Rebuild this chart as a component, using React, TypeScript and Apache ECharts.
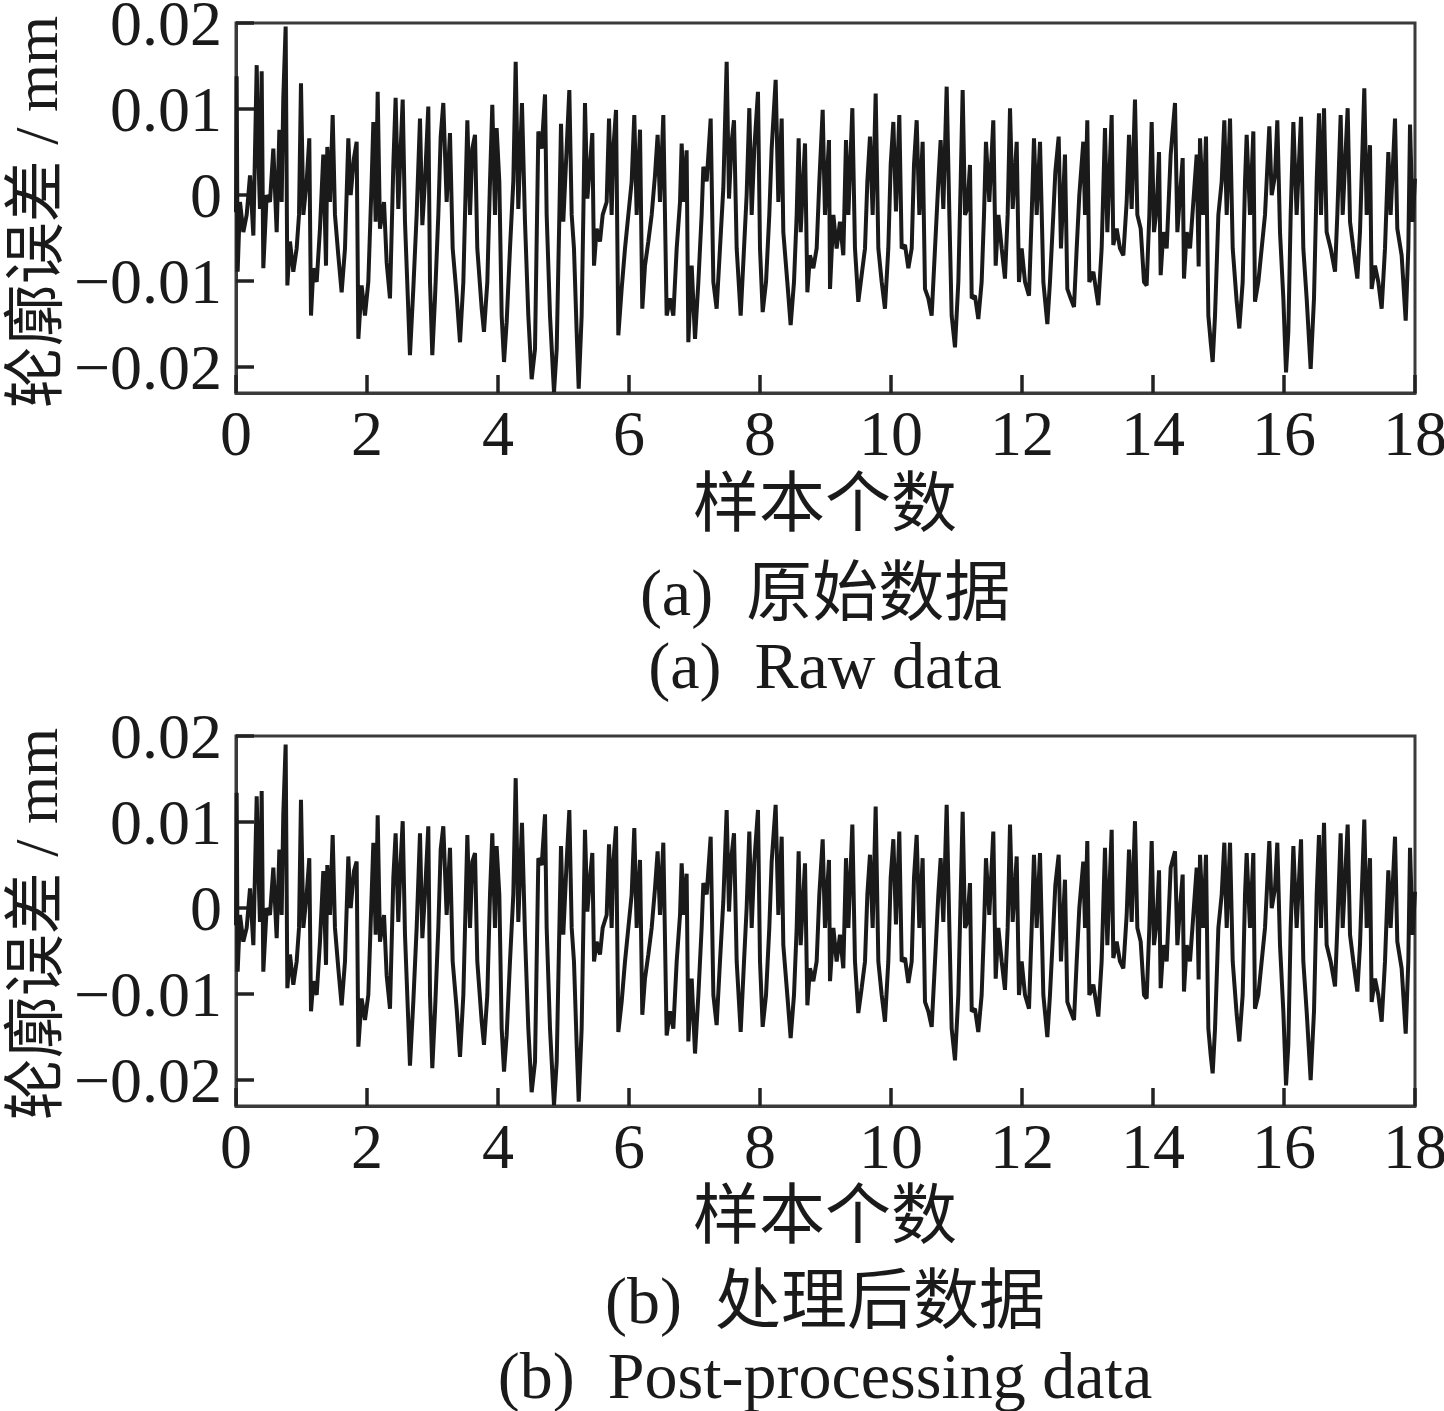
import React, { useEffect, useRef } from "react";
import * as echarts from "echarts";

// ---------- data (x = 样本个数, y = 轮廓误差 / mm) ----------
const X_SEG1 = [
  0, 0.01, 0.025, 0.061, 0.112, 0.163, 0.214, 0.265, 0.316, 0.341,
  0.366, 0.392, 0.417, 0.468, 0.519, 0.57, 0.621, 0.662, 0.697, 0.722,
  0.758, 0.784, 0.824, 0.875, 0.926, 0.962, 0.992, 1.028, 1.079, 1.119,
  1.145, 1.181, 1.232, 1.282, 1.333, 1.374, 1.394, 1.435, 1.476, 1.511,
  1.562, 1.613, 1.664, 1.715, 1.751, 1.801, 1.842, 1.868, 1.918, 1.969,
  2.02, 2.071, 2.097, 2.132, 2.163, 2.198, 2.26, 2.3, 2.351, 2.402,
  2.437, 2.478, 2.514, 2.545, 2.58, 2.656, 2.707, 2.758, 2.809, 2.845,
  2.885, 2.936, 2.962, 2.997, 3.038, 3.089, 3.125, 3.165, 3.216, 3.267,
  3.308, 3.369, 3.42, 3.471, 3.532, 3.573, 3.608, 3.649, 3.684, 3.751,
  3.786, 3.837, 3.878, 3.913, 3.954, 3.979, 4.02, 4.056, 4.092, 4.132,
  4.183, 4.234, 4.27, 4.31, 4.366, 4.412, 4.463, 4.514, 4.565, 4.616,
];
const RAW_SEG1 = [
  -0.002, 0.0138, -0.0089, -0.0008, -0.0043, -0.0023, 0.0023, -0.0047, 0.0151, 0.0047,
  -0.0016, 0.0144, -0.0085, 0.0, -0.0008, 0.0054, -0.0043, 0.0076, -0.0008, 0.0113,
  0.0196, -0.0105, -0.0054, -0.0089, -0.0062, -0.0023, 0.013, -0.0023, 0.0016, 0.0066,
  -0.014, -0.0085, -0.0101, -0.0039, 0.0047, -0.0082, 0.0056, -0.0008, 0.0093, -0.0023,
  -0.007, -0.0113, -0.0062, 0.0066, 0.0, 0.0043, 0.0062, -0.0167, -0.0105, -0.014,
  -0.0101, 0.0016, 0.0085, -0.0031, 0.012, -0.0039, -0.0008, -0.0078, -0.012, 0.0035,
  0.0113, -0.0016, 0.0054, 0.0111, -0.0031, -0.0186, -0.0109, -0.0023, 0.0089, -0.0035,
  0.0016, 0.0103, -0.0101, -0.0186, -0.012, -0.0023, 0.0068, 0.0107, -0.0008, 0.0072,
  -0.0062, -0.0117, -0.0171, -0.0101, 0.0087, -0.0023, 0.0054, 0.007, -0.0062, -0.0132,
  -0.0159, -0.0101, 0.0016, 0.0105, -0.0023, 0.0078, 0.0016, -0.014, -0.0194, -0.0148,
  -0.0062, 0.0016, 0.0155, -0.0016, 0.0107, -0.0031, -0.014, -0.0214, -0.0179, 0.0074,
];
const POST_SEG1 = [
  -0.002, 0.0134, -0.0074, -0.0008, -0.0039, -0.0023, 0.0023, -0.0043, 0.013, 0.0047,
  -0.0016, 0.0136, -0.0074, 0.0, -0.0008, 0.0047, -0.0035, 0.0068, -0.0008, 0.0109,
  0.019, -0.0093, -0.0054, -0.0089, -0.0062, -0.0023, 0.0126, -0.0023, 0.0016, 0.0058,
  -0.012, -0.0085, -0.0101, -0.0039, 0.0043, -0.0066, 0.005, -0.0008, 0.0085, -0.0023,
  -0.007, -0.0113, -0.0062, 0.006, 0.0, 0.0043, 0.0054, -0.0161, -0.0105, -0.013,
  -0.0101, 0.0016, 0.0076, -0.0031, 0.0108, -0.0039, -0.0008, -0.0078, -0.0117, 0.0035,
  0.0087, -0.0016, 0.0054, 0.0101, -0.0031, -0.0183, -0.0109, -0.0023, 0.0087, -0.0035,
  0.0016, 0.0095, -0.0101, -0.0186, -0.012, -0.0023, 0.0068, 0.0095, -0.0008, 0.007,
  -0.0062, -0.0117, -0.0173, -0.0101, 0.0085, -0.0023, 0.0054, 0.0064, -0.0062, -0.0132,
  -0.0159, -0.0101, 0.0016, 0.0087, -0.0023, 0.0072, 0.0016, -0.014, -0.019, -0.0148,
  -0.0062, 0.0016, 0.0151, -0.0016, 0.0099, -0.0031, -0.014, -0.0214, -0.0179, 0.0058,
];

const X_SEG2 = [
  4.667, 4.718, 4.743, 4.794, 4.855, 4.896, 4.937, 4.962, 4.997, 5.048,
  5.089, 5.125, 5.16, 5.201, 5.232, 5.277, 5.303, 5.328, 5.364, 5.405,
  5.44, 5.466, 5.506, 5.557, 5.598, 5.659, 5.695, 5.735, 5.761, 5.802,
  5.837, 5.888, 5.939, 5.99, 6.041, 6.081, 6.117, 6.168, 6.203, 6.244,
  6.295, 6.346, 6.397, 6.437, 6.473, 6.524, 6.575, 6.626, 6.677, 6.728,
  6.779, 6.804, 6.84, 6.88, 6.906, 6.957, 7.008, 7.059, 7.109, 7.135,
  7.186, 7.247, 7.288, 7.338, 7.389, 7.44, 7.491, 7.527, 7.567, 7.603,
  7.644, 7.705, 7.756, 7.796, 7.837, 7.873, 7.913, 7.969, 8.0, 8.041,
  8.092, 8.142, 8.178, 8.239, 8.28, 8.331, 8.356, 8.417, 8.468, 8.519,
  8.56, 8.59, 8.621, 8.687, 8.723, 8.763, 8.814, 8.865, 8.906, 8.957,
  8.992, 9.053, 9.069, 9.12, 9.17, 9.221,
];
const RAW_SEG2 = [
  0.0054, 0.0117, -0.0023, -0.014, -0.0229, -0.0179, -0.0023, 0.0083, -0.0031, 0.0054,
  0.0122, -0.0023, -0.0062, -0.0159, -0.0225, -0.014, -0.0023, 0.0107, -0.0004, 0.0035,
  0.0072, -0.0082, -0.0039, -0.0054, -0.0023, -0.0008, 0.0089, -0.0023, 0.0054, 0.0099,
  -0.0163, -0.0109, -0.0062, -0.0023, 0.0016, 0.0093, -0.0023, 0.0076, -0.0132, -0.0082,
  -0.0054, -0.0023, 0.0023, 0.007, -0.0008, 0.0093, -0.014, -0.012, -0.014, -0.0062,
  -0.0008, 0.006, -0.0008, 0.0052, -0.0171, -0.0082, -0.0167, -0.0101, -0.0023, 0.0033,
  0.0016, 0.0089, -0.0101, -0.0132, -0.0062, 0.0008, 0.0155, -0.0004, 0.0062, 0.0087,
  -0.0062, -0.014, -0.0062, 0.0, 0.0101, -0.0023, 0.0054, 0.012, -0.0062, -0.0136,
  -0.0101, -0.0023, 0.0054, 0.0134, -0.0008, 0.0089, -0.0043, -0.0101, -0.0151, -0.0101,
  -0.0023, 0.0066, -0.0043, 0.006, -0.0113, -0.007, -0.0085, -0.0062, 0.0016, 0.0099,
  -0.0023, 0.0064, -0.0109, -0.0023, -0.0062, -0.0031,
];
const POST_SEG2 = [
  0.005, 0.0109, -0.0023, -0.014, -0.0229, -0.0179, -0.0023, 0.0072, -0.0031, 0.0054,
  0.0114, -0.0023, -0.0062, -0.0159, -0.0225, -0.014, -0.0023, 0.0091, -0.0004, 0.0035,
  0.0064, -0.0062, -0.0039, -0.0054, -0.0023, -0.0008, 0.0074, -0.0023, 0.0054, 0.0095,
  -0.0144, -0.0109, -0.0062, -0.0023, 0.0016, 0.0093, -0.0023, 0.0056, -0.0124, -0.0082,
  -0.0054, -0.0023, 0.0023, 0.0066, -0.0008, 0.0076, -0.0148, -0.012, -0.014, -0.0062,
  -0.0008, 0.0052, -0.0008, 0.004, -0.0155, -0.0082, -0.0169, -0.0101, -0.0023, 0.0029,
  0.0016, 0.0083, -0.0101, -0.0136, -0.0062, 0.0008, 0.0114, -0.0004, 0.0062, 0.0087,
  -0.0062, -0.0144, -0.0062, 0.0, 0.0089, -0.0023, 0.0054, 0.0114, -0.0062, -0.0138,
  -0.0101, -0.0023, 0.0054, 0.012, -0.0008, 0.0083, -0.0043, -0.0101, -0.0151, -0.0101,
  -0.0023, 0.0066, -0.0043, 0.0052, -0.0113, -0.007, -0.0085, -0.0062, 0.0016, 0.008,
  -0.0023, 0.0056, -0.0085, -0.0023, -0.0062, -0.0031,
];

const X_SEG3 = [
  9.272, 9.313, 9.349, 9.41, 9.45, 9.501, 9.552, 9.603, 9.639, 9.679,
  9.72, 9.766, 9.807, 9.858, 9.908, 9.959, 9.995, 10.036, 10.076, 10.127,
  10.163, 10.214, 10.265, 10.316, 10.351, 10.392, 10.433, 10.483, 10.519, 10.57,
  10.621, 10.672, 10.723, 10.758, 10.799, 10.85, 10.891, 10.926, 10.977, 11.028,
  11.064, 11.094, 11.13, 11.165, 11.206, 11.232, 11.282, 11.333, 11.384, 11.42,
  11.45, 11.501, 11.562, 11.598, 11.639, 11.69, 11.74, 11.781, 11.817, 11.858,
  11.919, 11.954, 11.995, 12.046, 12.107, 12.148, 12.183, 12.224, 12.275, 12.326,
  12.387, 12.427, 12.478, 12.509, 12.56, 12.595, 12.656, 12.692, 12.743, 12.794,
  12.835, 12.875, 12.936, 12.962, 12.997, 13.028, 13.089, 13.165, 13.216, 13.267,
  13.303, 13.369, 13.394, 13.445, 13.496, 13.547, 13.598, 13.634, 13.674, 13.725,
  13.761,
];
const RAW_SEG3 = [
  -0.007, 0.0064, -0.0023, 0.0101, -0.0062, -0.0124, -0.0093, -0.0062, 0.0016, 0.0068,
  -0.0023, 0.0118, -0.0062, -0.0101, -0.0132, -0.0062, 0.0035, 0.0085, -0.0019, 0.0093,
  -0.0062, -0.0058, -0.0085, -0.0062, 0.0035, 0.0087, -0.0023, 0.0062, -0.0109, -0.012,
  -0.014, -0.0062, 0.0016, 0.0064, -0.0016, 0.0126, -0.0023, -0.014, -0.0177, -0.0101,
  0.0016, 0.0122, -0.0023, -0.0016, 0.0035, -0.012, -0.0117, -0.0144, -0.0101, -0.0023,
  0.0062, -0.0008, 0.0087, -0.0082, -0.0023, -0.0062, -0.0097, -0.0023, 0.0101, -0.0016,
  0.0062, -0.0101, -0.0062, -0.0101, -0.0117, -0.0023, 0.0066, -0.0023, 0.0062, -0.0101,
  -0.015, -0.0101, -0.0023, 0.0027, 0.0068, -0.0062, 0.0047, -0.0109, -0.012, -0.013,
  -0.0062, 0.0, 0.0062, -0.0023, 0.0087, -0.0101, -0.0089, -0.0128, -0.0062, 0.0078,
  -0.0043, 0.0093, -0.0058, -0.0039, -0.0062, -0.007, -0.0008, 0.007, -0.0016, 0.0111,
  -0.0023,
];
const POST_SEG3 = [
  -0.007, 0.0058, -0.0023, 0.0097, -0.0062, -0.0122, -0.0093, -0.0062, 0.0016, 0.0062,
  -0.0023, 0.0118, -0.0062, -0.0101, -0.0132, -0.0062, 0.0035, 0.008, -0.0019, 0.0089,
  -0.0062, -0.0058, -0.0087, -0.0062, 0.0035, 0.0085, -0.0023, 0.0058, -0.0109, -0.012,
  -0.0138, -0.0062, 0.0016, 0.0058, -0.0016, 0.012, -0.0023, -0.014, -0.0177, -0.0101,
  0.0016, 0.0112, -0.0023, -0.0016, 0.0029, -0.012, -0.0117, -0.0144, -0.0101, -0.0023,
  0.0058, -0.0008, 0.0089, -0.0082, -0.0023, -0.0062, -0.0095, -0.0023, 0.0097, -0.0016,
  0.006, -0.0101, -0.0062, -0.0101, -0.0117, -0.0023, 0.0062, -0.0023, 0.0064, -0.0101,
  -0.015, -0.0101, -0.0023, 0.0027, 0.0062, -0.0062, 0.0033, -0.0109, -0.012, -0.013,
  -0.0062, 0.0, 0.0054, -0.0023, 0.0078, -0.0101, -0.0089, -0.0126, -0.0062, 0.007,
  -0.0043, 0.0091, -0.0058, -0.0039, -0.0062, -0.007, -0.0008, 0.0068, -0.0016, 0.0101,
  -0.0023,
];

const X_SEG4 = [
  13.812, 13.863, 13.903, 13.944, 13.98, 14.015, 14.056, 14.092, 14.117, 14.158,
  14.209, 14.27, 14.336, 14.372, 14.412, 14.453, 14.473, 14.514, 14.565, 14.616,
  14.667, 14.697, 14.718, 14.768, 14.809, 14.845, 14.881, 14.911, 14.947, 14.998,
  15.049, 15.089, 15.125, 15.176, 15.217, 15.278, 15.318, 15.369, 15.405, 15.43,
  15.481, 15.532, 15.557, 15.608, 15.659, 15.71, 15.776, 15.812, 15.863, 15.898,
  15.939, 15.99, 16.031, 16.066, 16.102, 16.143, 16.193, 16.26, 16.295, 16.346,
  16.407, 16.458, 16.499, 16.534, 16.565, 16.611, 16.651, 16.712, 16.779, 16.814,
  16.865, 16.896, 16.972, 17.008, 17.059, 17.12, 17.16, 17.226, 17.262, 17.313,
  17.338, 17.389, 17.44, 17.491, 17.542, 17.593, 17.628, 17.695, 17.73, 17.796,
  17.858, 17.898, 17.924, 17.964, 18.0,
];
const RAW_SEG4 = [
  -0.0039, -0.0101, -0.0105, -0.0023, 0.0085, -0.0043, -0.0016, 0.005, -0.0093, -0.0043,
  -0.0062, 0.0047, 0.0107, -0.0043, 0.0, 0.0043, -0.0097, -0.0043, -0.0062, -0.0008,
  0.0047, -0.0083, 0.0066, -0.0023, 0.0068, -0.014, -0.0171, -0.0194, -0.014, -0.0023,
  0.0016, 0.0087, -0.0023, 0.0089, -0.0062, -0.0124, -0.0155, -0.0101, 0.0016, 0.007,
  -0.0023, 0.0074, -0.0124, -0.0101, -0.0062, -0.0023, 0.008, 0.0, 0.0023, 0.0087,
  -0.0043, -0.012, -0.0206, -0.0159, -0.0023, 0.0085, -0.0023, 0.0091, -0.0062, -0.012,
  -0.0202, -0.012, 0.0016, 0.0095, -0.0023, 0.0101, -0.0043, -0.0062, -0.0089, -0.0023,
  0.0093, -0.0023, 0.0101, -0.0031, -0.0062, -0.0097, -0.0043, 0.0124, -0.0023, 0.0058,
  -0.0109, -0.0082, -0.0101, -0.0132, -0.0062, 0.005, -0.0023, 0.0089, -0.0039, -0.007,
  -0.0146, -0.0062, 0.0082, -0.0031, 0.0019,
];
const POST_SEG4 = [
  -0.0039, -0.0101, -0.0105, -0.0023, 0.0078, -0.0043, -0.0016, 0.0044, -0.0093, -0.0043,
  -0.0062, 0.0047, 0.0066, -0.0043, 0.0, 0.0039, -0.0097, -0.0043, -0.0062, -0.0008,
  0.0047, -0.0083, 0.0062, -0.0023, 0.0062, -0.014, -0.0171, -0.0192, -0.014, -0.0023,
  0.0016, 0.0076, -0.0023, 0.0076, -0.0062, -0.0124, -0.0155, -0.0101, 0.0016, 0.0064,
  -0.0023, 0.0064, -0.0117, -0.0101, -0.0062, -0.0023, 0.0078, 0.0, 0.0023, 0.0076,
  -0.0043, -0.012, -0.0206, -0.0159, -0.0023, 0.0072, -0.0023, 0.008, -0.0062, -0.012,
  -0.02, -0.012, 0.0016, 0.0085, -0.0023, 0.0099, -0.0043, -0.0062, -0.0091, -0.0023,
  0.0087, -0.0023, 0.0097, -0.0031, -0.0062, -0.0097, -0.0043, 0.0103, -0.0023, 0.0058,
  -0.0109, -0.0082, -0.0101, -0.0132, -0.0062, 0.0044, -0.0023, 0.0083, -0.0039, -0.007,
  -0.0146, -0.0062, 0.007, -0.0031, 0.0019,
];

const X_TICKS = { min: 0, max: 18, interval: 2 };
const Y_RANGE = { min: -0.023, max: 0.02 };

const AXIS_NAME_X = "样本个数";
const AXIS_NAME_Y = "轮廓误差 / mm";
const CAPTION_A_CN = "(a)  原始数据";
const CAPTION_A_EN = "(a)  Raw data";
const CAPTION_B_CN = "(b)  处理后数据";
const CAPTION_B_EN = "(b)  Post-processing data";

// ---------- helpers ----------
const SAMPLE_X = [...X_SEG1, ...X_SEG2, ...X_SEG3, ...X_SEG4];
const RAW_Y = [...RAW_SEG1, ...RAW_SEG2, ...RAW_SEG3, ...RAW_SEG4];
const POST_Y = [...POST_SEG1, ...POST_SEG2, ...POST_SEG3, ...POST_SEG4];

function zip(xs: number[], ys: number[]) {
  const n = Math.min(xs.length, ys.length);
  const out: [number, number][] = [];
  for (let i = 0; i < n; i++) out.push([xs[i], ys[i]]);
  return out;
}

const FONT = "'Liberation Serif', 'Times New Roman', 'Noto Sans CJK SC', serif";
const INK = "#1a1a1a";
const FRAME = "#3a3a3a";

const GRID_LEFT = 236;
const GRID_W = 1179;
const GRID_H = 370;
const GRID_TOPS = [23, 736];
const CENTER_X = 825;

function yFmt(v: number) {
  if (Math.abs(v) < 1e-9) return "0";
  const r = Math.round(v * 100) / 100;
  if (Math.abs(r - v) > 1e-6) return "";
  return (r < 0 ? "\u2212" : "") + Math.abs(r).toFixed(2);
}

function textEl(text: string, x: number, y: number, size: number, rotation = 0) {
  return {
    type: "text",
    x,
    y,
    rotation,
    silent: true,
    style: {
      text,
      fill: INK,
      fontSize: size,
      fontFamily: FONT,
      align: "center",
      verticalAlign: "middle",
      textAlign: "center",
      textVerticalAlign: "middle",
    },
  };
}

export default function App() {
  const ref = useRef<HTMLDivElement>(null);

  useEffect(() => {
    if (!ref.current) return;
    const chart = echarts.init(ref.current, undefined, { renderer: "svg" });

    const grids = GRID_TOPS.map((top) => ({
      left: GRID_LEFT,
      top,
      width: GRID_W,
      height: GRID_H,
      show: true,
      borderColor: FRAME,
      borderWidth: 3,
      backgroundColor: "transparent",
      containLabel: false,
      outerBoundsMode: "none",
    }));

    const xAxes = GRID_TOPS.map((_, i) => ({
      type: "value",
      gridIndex: i,
      min: X_TICKS.min,
      max: X_TICKS.max,
      interval: X_TICKS.interval,
      axisLine: { show: true, onZero: false, lineStyle: { color: FRAME, width: 3 } },
      axisTick: { show: true, inside: true, length: 18, lineStyle: { color: "#222", width: 3.5 } },
      axisLabel: { show: true, color: INK, fontSize: 64, fontFamily: FONT, margin: 8 },
      splitLine: { show: false },
    }));

    const yAxes = GRID_TOPS.map((_, i) => ({
      type: "value",
      gridIndex: i,
      min: Y_RANGE.min,
      max: Y_RANGE.max,
      splitNumber: 5,
      axisLine: { show: true, onZero: false, lineStyle: { color: FRAME, width: 3 } },
      axisTick: { show: true, inside: true, length: 18, lineStyle: { color: "#222", width: 3.5 } },
      axisLabel: {
        show: true,
        color: INK,
        fontSize: 64,
        fontFamily: FONT,
        margin: 14,
        showMinLabel: false,
        showMaxLabel: true,
        formatter: (v: number) => yFmt(v),
      },
      splitLine: { show: false },
    }));

    const seriesData = [zip(SAMPLE_X, RAW_Y), zip(SAMPLE_X, POST_Y)];
    const series = seriesData.map((d, i) => ({
      type: "line",
      xAxisIndex: i,
      yAxisIndex: i,
      data: d,
      showSymbol: false,
      symbol: "none",
      clip: true,
      lineStyle: { color: INK, width: 4, join: "bevel" },
      z: 1,
    }));

    const graphic = [
      textEl(AXIS_NAME_Y, 36, 212, 62, Math.PI / 2),
      textEl(AXIS_NAME_Y, 36, 924, 62, Math.PI / 2),
      textEl(AXIS_NAME_X, CENTER_X, 503, 66),
      textEl(CAPTION_A_CN, CENTER_X, 592, 66),
      textEl(CAPTION_A_EN, CENTER_X, 665, 66),
      textEl(AXIS_NAME_X, CENTER_X, 1215, 66),
      textEl(CAPTION_B_CN, CENTER_X, 1300, 66),
      textEl(CAPTION_B_EN, CENTER_X, 1375, 66),
    ];

    chart.setOption({
      animation: false,
      backgroundColor: "#ffffff",
      grid: grids,
      xAxis: xAxes,
      yAxis: yAxes,
      series,
      graphic,
    } as any);

    return () => chart.dispose();
  }, []);

  return (
    <div
      ref={ref}
      style={{ position: "absolute", left: 0, top: 0, width: 1444, height: 1411, background: "#fff" }}
    />
  );
}
